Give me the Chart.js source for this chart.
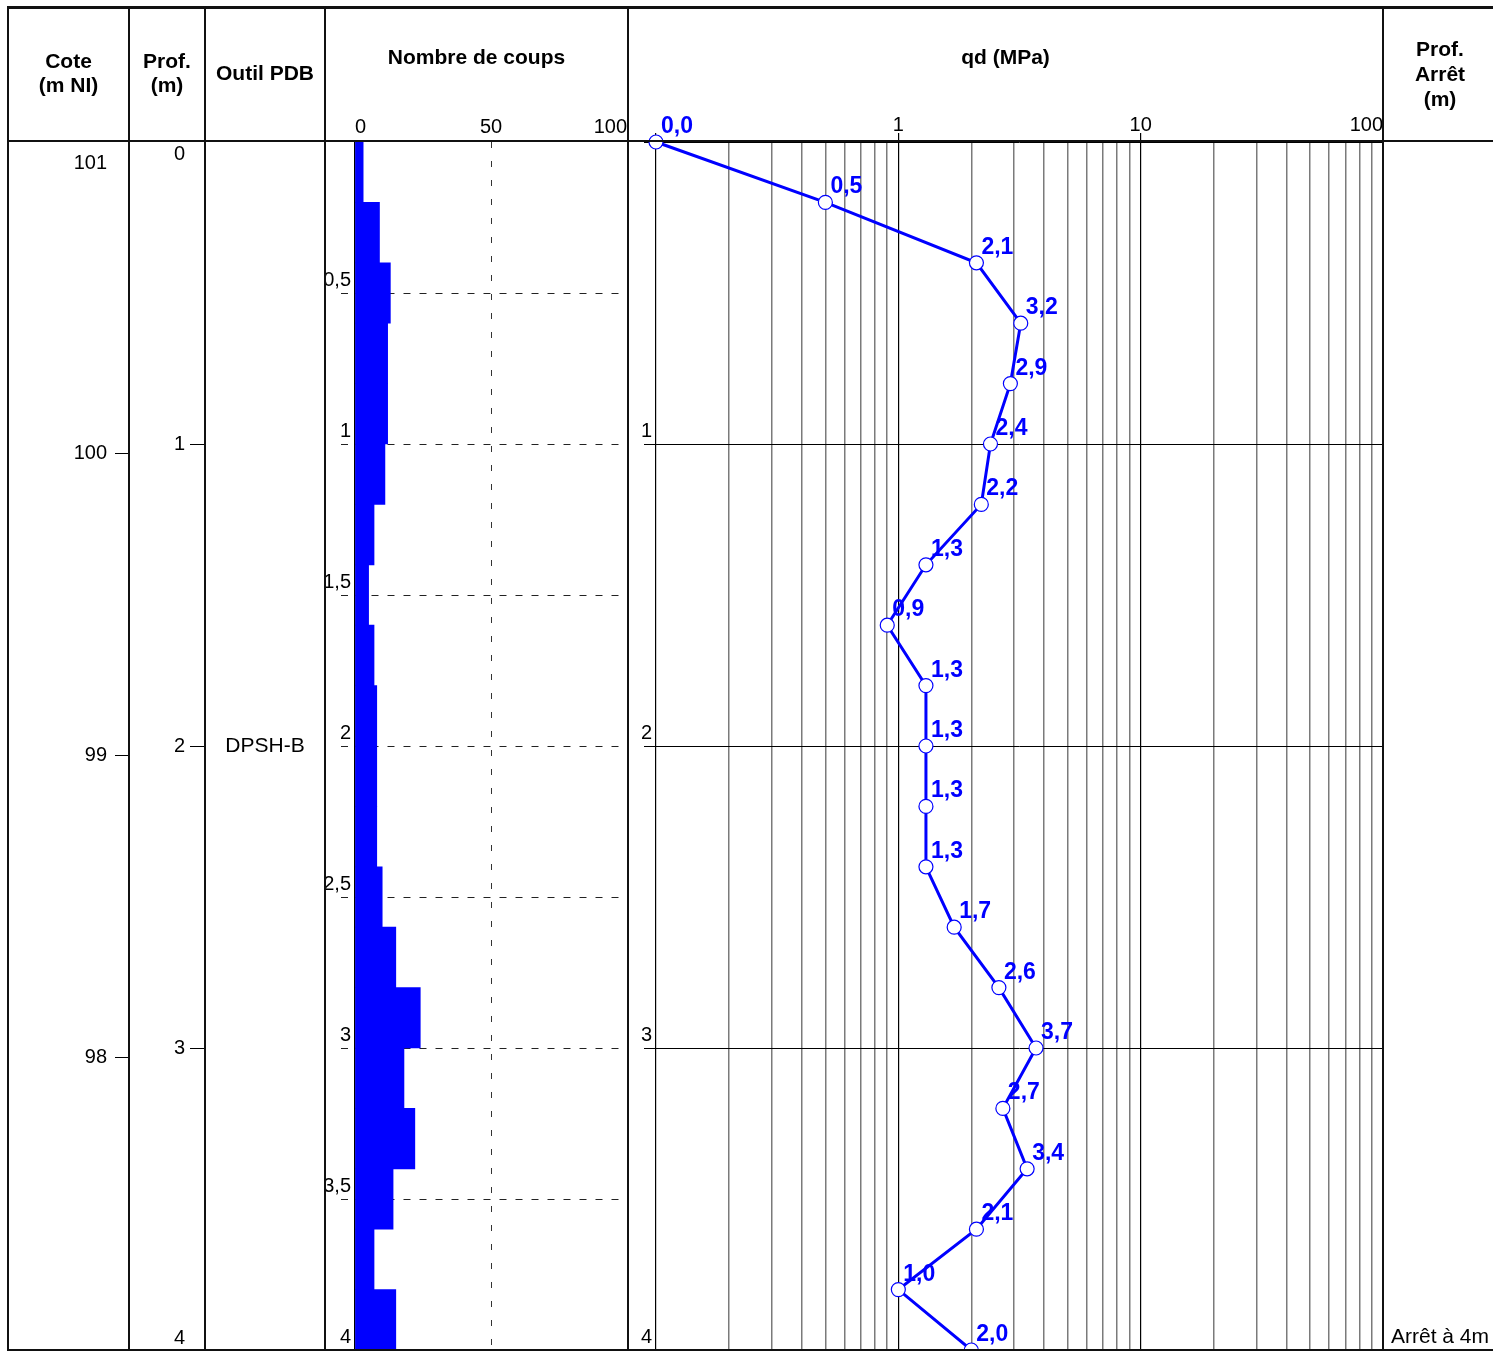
<!DOCTYPE html>
<html lang="fr">
<head>
<meta charset="utf-8">
<title>Sondage au pénétromètre dynamique</title>
<script src="https://cdn.jsdelivr.net/npm/chart.js@4.4.1/dist/chart.umd.min.js"></script>
<style>
  html, body { margin: 0; padding: 0; background: #fff; }
  body { width: 1493px; height: 1351px; position: relative; overflow: hidden;
         font-family: "Liberation Sans", Arial, sans-serif; color: #000; }
  canvas { position: absolute; top: 0; }
  .rule { position: absolute; background: #111; }
  .head { position: absolute; font-weight: bold; font-size: 21px; line-height: 24px; text-align: center; }
  .note { position: absolute; font-size: 21px; line-height: 24px; text-align: center; white-space: nowrap; }
</style>
</head>
<body>
<canvas id="coupsChart" width="628" height="1351" style="left:0"></canvas>
<canvas id="qdChart" width="865" height="1351" style="left:628px"></canvas>

<!-- table frame -->
<div class="rule" style="left:8px; top:6px; width:1485px; height:3px"></div>
<div class="rule" style="left:8px; top:140px; width:1485px; height:2px"></div>
<div class="rule" style="left:8px; top:1349px; width:1485px; height:2px"></div>
<div class="rule" style="left:7px; top:6px; width:2px; height:1345px"></div>
<div class="rule" style="left:128px; top:6px; width:2px; height:1345px"></div>
<div class="rule" style="left:204px; top:6px; width:2px; height:1345px"></div>
<div class="rule" style="left:324px; top:6px; width:2px; height:1345px"></div>
<div class="rule" style="left:627px; top:6px; width:2px; height:1345px"></div>
<div class="rule" style="left:1382px; top:6px; width:2px; height:1345px"></div>

<!-- column headers -->
<div class="head" style="left:8px; width:121px; top:49px">Cote<br>(m NI)</div>
<div class="head" style="left:129px; width:76px; top:49px">Prof.<br>(m)</div>
<div class="head" style="left:205px; width:120px; top:61px">Outil PDB</div>
<div class="head" style="left:325px; width:303px; top:45px">Nombre de coups</div>
<div class="head" style="left:628px; width:755px; top:45px">qd (MPa)</div>
<div class="head" style="left:1383px; width:114px; top:36px; line-height:25px">Prof.<br>Arrêt<br>(m)</div>

<div class="note" id="toolNote" style="left:205px; width:120px; top:733px"></div>
<div class="note" id="stopNote" style="left:1383px; width:114px; top:1324px"></div>

<script>
// ---- Sounding data -------------------------------------------------------
const toolName = 'DPSH-B';
const stopText = 'Arrêt à 4m';

// Ground elevation (m NI) and elevation ticks
const groundLevel = 101.03;
const coteTicks = [101, 100, 99, 98];

// Depth ticks (m)
const profTicks = [0, 1, 2, 3, 4];
const maxDepth = 4;

// Blow counts, one value per 0.2 m drive interval (top of interval in m)
const blowStep = 0.2;
const blowDepthTop = [0.0, 0.2, 0.4, 0.6, 0.8, 1.0, 1.2, 1.4, 1.6, 1.8,
                      2.0, 2.2, 2.4, 2.6, 2.8, 3.0, 3.2, 3.4, 3.6, 3.8];
const blowCounts   = [3, 9, 13, 12, 12, 11, 7, 5, 7, 8,
                      8, 8, 10, 15, 24, 18, 22, 14, 7, 15];
const coupsTickLabels = ['0', '50', '100'];

// Dynamic cone resistance qd (MPa) versus depth (m)
const qdDepths = [0.0, 0.2, 0.4, 0.6, 0.8, 1.0, 1.2, 1.4, 1.6, 1.8, 2.0,
                  2.2, 2.4, 2.6, 2.8, 3.0, 3.2, 3.4, 3.6, 3.8, 4.0];
const qdValues = [0.0, 0.5, 2.1, 3.2, 2.9, 2.4, 2.2, 1.3, 0.9, 1.3, 1.3,
                  1.3, 1.3, 1.7, 2.6, 3.7, 2.7, 3.4, 2.1, 1.0, 2.0];
const qdDecades = [0.1, 1, 10, 100];
const qdTickLabels = { 1: '1', 10: '10', 100: '100' };

// ---- Helpers ---------------------------------------------------------------
const FONT = '"Liberation Sans", Arial, sans-serif';
const BLUE = '#0000ff';
const CLEAR = 'rgba(0,0,0,0)';
const frNum = v => String(v).replace('.', ',');
const isDecade = v => qdDecades.some(d => Math.abs(d - v) < 1e-9);

// keep the plot area on the exact table rows: axes get a fixed size and no label overhang
const fixSize = (w, h) => s => {
  if (w !== null) s.width = w;
  if (h !== null) s.height = h;
  s.paddingTop = 0; s.paddingBottom = 0; s.paddingLeft = 0; s.paddingRight = 0;
};

// log grid: every 1..9 multiple inside each decade, up to the last decade
const qdGrid = [];
qdDecades.forEach((d, k) => {
  if (k === qdDecades.length - 1) { qdGrid.push(d); return; }
  for (let m = 1; m <= 9; m++) qdGrid.push(+(d * m).toPrecision(3));
});

document.getElementById('toolNote').textContent = toolName;
document.getElementById('stopNote').textContent = stopText;

// ---- Blow-count chart with elevation / depth columns ------------------------
new Chart(document.getElementById('coupsChart'), {
  type: 'bar',
  data: {
    datasets: [{
      data: blowDepthTop.map((d, i) => ({ y: d + blowStep / 2, x: blowCounts[i] })),
      backgroundColor: BLUE,
      borderWidth: 0,
      barPercentage: 1,
      categoryPercentage: 1,
      xAxisID: 'coups',
      yAxisID: 'depthN'
    }]
  },
  options: {
    indexAxis: 'y',
    responsive: false,
    animation: false,
    events: [],
    layout: { autoPadding: false, padding: { left: 8, right: 1, top: 0, bottom: 1 } },
    plugins: { legend: { display: false }, tooltip: { enabled: false } },
    scales: {
      coups: {
        axis: 'x', type: 'linear', position: 'top', min: 0, max: 100,
        afterBuildTicks: s => { s.ticks = [0, 50, 100].map(v => ({ value: v })); },
        afterFit: fixSize(null, 142),
        ticks: {
          callback: (v, i) => coupsTickLabels[i],
          align: 'inner', maxRotation: 0, autoSkip: false, padding: 3,
          color: '#000', font: { family: FONT, size: 20 }
        },
        grid: {
          drawTicks: false, lineWidth: 1,
          color: c => (c.tick && c.tick.value === 50) ? '#333' : CLEAR,
          borderDash: [6, 13]
        },
        border: { display: false, dash: [6, 13] }
      },
      cote: {
        axis: 'y', type: 'linear', position: 'left', weight: 3, offset: false,
        min: groundLevel - maxDepth, max: groundLevel,
        afterBuildTicks: s => { s.ticks = coteTicks.map(v => ({ value: v })); },
        afterFit: fixSize(121, null),
        ticks: {
          autoSkip: false, padding: 8, color: '#000', font: { family: FONT, size: 20 },
          callback: v => v === coteTicks[0] ? ['', String(v)] : String(v)
        },
        grid: {
          offset: false, drawOnChartArea: false, tickLength: 14, lineWidth: 1,
          tickColor: c => (c.tick && c.tick.value === coteTicks[0]) ? CLEAR : '#000'
        },
        border: { display: false }
      },
      prof: {
        axis: 'y', type: 'linear', position: 'left', weight: 2, offset: false,
        min: 0, max: maxDepth, reverse: true,
        afterBuildTicks: s => { s.ticks = profTicks.map(v => ({ value: v })); },
        afterFit: fixSize(76, null),
        ticks: {
          autoSkip: false, padding: 5, color: '#000', font: { family: FONT, size: 20 },
          callback: v => v === 0 ? ['', '0'] : (v === maxDepth ? [String(v), ''] : String(v))
        },
        grid: {
          offset: false, drawOnChartArea: false, tickLength: 15, lineWidth: 1,
          tickColor: c => (c.tick && (c.tick.value === 0 || c.tick.value === maxDepth)) ? CLEAR : '#000'
        },
        border: { display: false }
      },
      depthN: {
        axis: 'y', type: 'linear', position: 'left', weight: 1,
        min: 0, max: maxDepth, reverse: true, offset: false,
        afterFit: fixSize(150, null),
        ticks: {
          stepSize: 0.5, autoSkip: false, padding: -10, labelOffset: -13,
          color: '#000', font: { family: FONT, size: 20 },
          callback: v => v === 0 ? '' : frNum(v)
        },
        grid: {
          offset: false, lineWidth: 1, tickLength: 14,
          color: c => (c.tick && c.tick.value === 0) ? CLEAR : '#222',
          tickColor: c => (c.tick && c.tick.value === 0) ? CLEAR : '#222',
          tickBorderDash: [7, 9], borderDash: [7, 9]
        },
        border: { display: true, color: '#000', width: 1.5, dash: [7, 9] }
      }
    }
  }
});

// ---- qd chart ---------------------------------------------------------------
const valueLabels = {
  id: 'valueLabels',
  afterDatasetsDraw(chart) {
    const meta = chart.getDatasetMeta(0);
    const ctx = chart.ctx;
    ctx.save();
    ctx.font = 'bold 23px "Liberation Sans Narrow", "Liberation Sans", sans-serif';
    ctx.fillStyle = BLUE;
    ctx.textAlign = 'left';
    ctx.textBaseline = 'alphabetic';
    meta.data.forEach((pt, i) => {
      ctx.fillText(qdValues[i].toFixed(1).replace('.', ','), pt.x + 5, pt.y - 9);
    });
    ctx.restore();
  }
};

new Chart(document.getElementById('qdChart'), {
  type: 'scatter',
  data: {
    datasets: [{
      data: qdDepths.map((d, i) => ({ x: qdValues[i], y: d })),
      showLine: true,
      borderColor: BLUE,
      borderWidth: 3,
      pointRadius: 7,
      pointBackgroundColor: '#fff',
      pointBorderColor: BLUE,
      pointBorderWidth: 1.2,
      clip: false,
      xAxisID: 'qd',
      yAxisID: 'depthQ'
    }]
  },
  options: {
    responsive: false,
    animation: false,
    events: [],
    layout: { autoPadding: false, padding: { left: 0, right: 110, top: 0, bottom: 1 } },
    plugins: { legend: { display: false }, tooltip: { enabled: false } },
    scales: {
      qd: {
        type: 'logarithmic', position: 'top', min: qdDecades[0], max: qdDecades[qdDecades.length - 1],
        afterBuildTicks: s => { s.ticks = qdGrid.map(v => ({ value: v, major: isDecade(v) })); },
        afterFit: fixSize(null, 142),
        ticks: {
          autoSkip: false, maxRotation: 0, align: 'inner', padding: -4,
          color: '#000', font: { family: FONT, size: 20 },
          callback: v => qdTickLabels[v] || ''
        },
        grid: {
          tickLength: 9,
          color: c => (c.tick && isDecade(c.tick.value)) ? '#000' : '#7a7a7a',
          lineWidth: c => (c.tick && isDecade(c.tick.value)) ? 1.2 : 1.5,
          tickColor: c => (c.tick && isDecade(c.tick.value)) ? '#000' : CLEAR
        },
        border: { display: false }
      },
      depthQ: {
        type: 'linear', position: 'left', min: 0, max: maxDepth, reverse: true,
        afterFit: fixSize(28, null),
        ticks: {
          stepSize: 1, autoSkip: false, padding: -8, labelOffset: -13,
          color: '#000', font: { family: FONT, size: 20 },
          callback: v => v === 0 ? '' : String(v)
        },
        grid: { color: '#000', lineWidth: 1, tickLength: 12 },
        border: { display: false }
      }
    }
  },
  plugins: [valueLabels]
});
</script>
</body>
</html>
